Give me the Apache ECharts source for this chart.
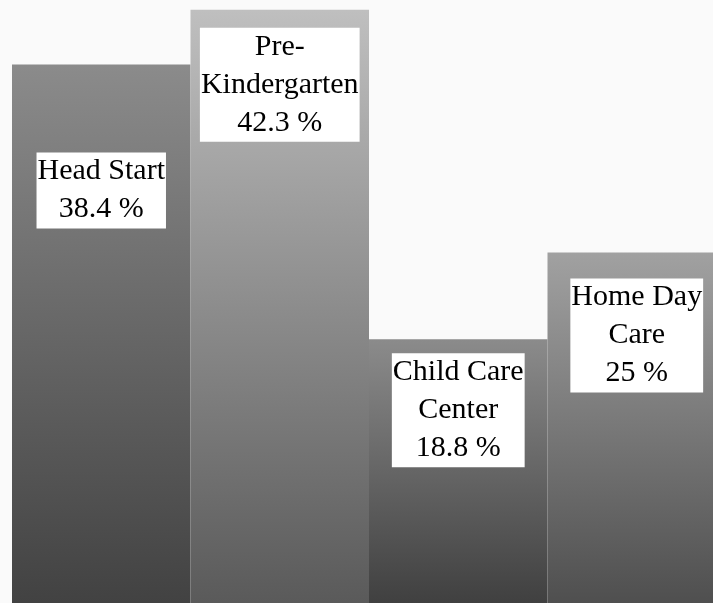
<!DOCTYPE html>
<html>
<head>
<meta charset="utf-8">
<script src="https://cdn.jsdelivr.net/npm/echarts@6/dist/echarts.min.js"></script>
<style>
  html, body { margin: 0; padding: 0; background: #fafafa; overflow: hidden; }
  #chart { width: 727px; height: 603px; }
</style>
</head>
<body>
<div id="chart"></div>
<script>
// program types and share of children (%)
var categories = ['Head Start', 'Pre-Kindergarten', 'Child Care Center', 'Home Day Care']
var labelNames = ['Head Start', 'Pre-\nKindergarten', 'Child Care\nCenter', 'Home Day\nCare']
var shares = [38.4, 42.3, 18.8, 25]

// gradient top/bottom greys per bar, and how far each label sits below the bar top
var topColors = ['#8b8b8b', '#bfbfbf', '#8b8b8b', '#a1a1a1']
var bottomColors = ['#424242', '#5a5a5a', '#404040', '#4f4f4f']
var labelDrop = [88, 18, 14, 26]

var chart = echarts.init(document.getElementById('chart'))

var barData = shares.map(function (v, i) {
  return {
    value: v,
    name: categories[i],
    itemStyle: {
      color: new echarts.graphic.LinearGradient(0, 0, 0, 1, [
        { offset: 0, color: topColors[i] },
        { offset: 1, color: bottomColors[i] }
      ])
    },
    label: {
      distance: labelDrop[i],
      formatter: labelNames[i] + '\n' + v + ' %'
    }
  }
})

chart.setOption({
  backgroundColor: '#fafafa',
  animation: false,
  grid: {
    left: 12,
    right: 1,
    top: 0,
    bottom: -2
  },
  xAxis: {
    type: 'category',
    data: categories,
    show: false
  },
  yAxis: {
    type: 'value',
    min: 0,
    max: 43,
    show: false
  },
  series: [{
    type: 'bar',
    barWidth: '100%',
    data: barData,
    label: {
      show: true,
      position: 'insideTop',
      fontFamily: 'Liberation Serif',
      fontSize: 30,
      lineHeight: 38,
      color: '#000',
      backgroundColor: '#fff',
      padding: [0, 1],
      align: 'center'
    }
  }]
})
</script>
</body>
</html>
